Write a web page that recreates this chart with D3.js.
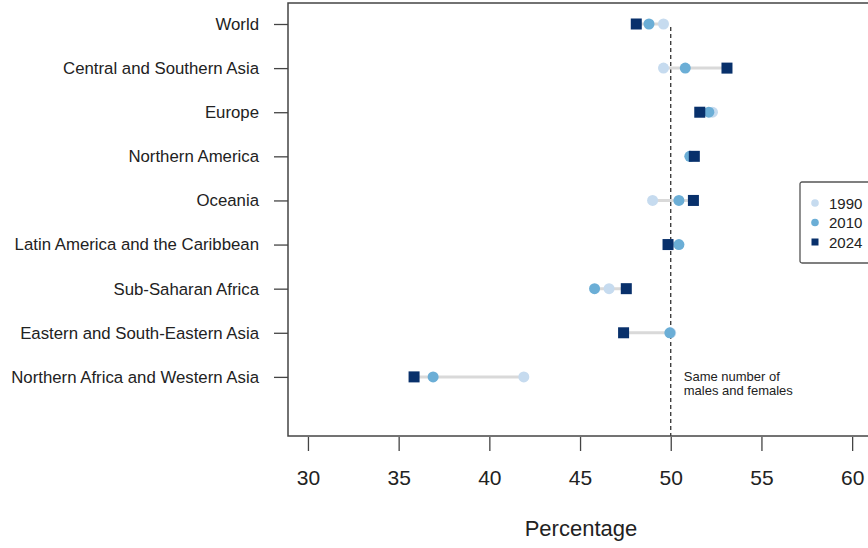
<!DOCTYPE html>
<html>
<head>
<meta charset="utf-8">
<script src="https://cdn.jsdelivr.net/npm/d3@7"></script>
<style>
  body { margin: 0; background: #fff; }
  text { font-family: "Liberation Sans", Arial, sans-serif; fill: #222; }
</style>
</head>
<body>
<div id="wrapper"></div>
<script>
// regions, top to bottom
const regions = [
  "World",
  "Central and Southern Asia",
  "Europe",
  "Northern America",
  "Oceania",
  "Latin America and the Caribbean",
  "Sub-Saharan Africa",
  "Eastern and South-Eastern Asia",
  "Northern Africa and Western Asia"
]
const years = ["1990", "2010", "2024"]
const values1990 = [49.6, 49.6, 52.3, 51.1, 49.0, 49.9, 46.6, 50.0, 41.9]
const values2010 = [48.8, 50.8, 52.1, 51.05, 50.45, 50.45, 45.8, 49.95, 36.9]
const values2024 = [48.1, 53.1, 51.6, 51.3, 51.25, 49.85, 47.55, 47.4, 35.85]
const xTicks = [30, 35, 40, 45, 50, 55, 60]
const colors = ["#c6dbef", "#6baed6", "#08306b"]

async function drawDotChart() {
    const dimensions = {
        width: 868,
        height: 548,
        margin: { top: 3, right: -5, bottom: 112, left: 288 }
    }
    dimensions.boundedWidth = dimensions.width - dimensions.margin.left - dimensions.margin.right
    dimensions.boundedHeight = dimensions.height - dimensions.margin.top - dimensions.margin.bottom

    const svg = d3.select("#wrapper")
        .append("svg")
            .attr("width", dimensions.width)
            .attr("height", dimensions.height)

    const bounds = svg.append("g")
        .attr("transform", `translate(${dimensions.margin.left},${dimensions.margin.top})`)

    const xScale = d3.scaleLinear()
        .domain([28.9, 61.15])
        .range([0, dimensions.boundedWidth])

    // index scale: row 0 at top, an empty slot left at the bottom
    const yScale = d3.scaleLinear()
        .domain([-0.476, regions.length - 1 + 1.34])
        .range([0, dimensions.boundedHeight])

    const rows = regions.map((r, i) => ({
        region: r, i,
        vals: [values1990[i], values2010[i], values2024[i]]
    }))

    // dashed reference line
    bounds.append("line")
        .attr("x1", xScale(50)).attr("x2", xScale(50))
        .attr("y1", yScale(0) + 3).attr("y2", dimensions.boundedHeight)
        .attr("stroke", "#222")
        .attr("stroke-width", 1.2)
        .attr("stroke-dasharray", "4,3")

    const note = ["Same number of", "males and females"]
    note.forEach((t, k) => {
        bounds.append("text")
            .attr("x", xScale(50) + 13)
            .attr("y", yScale(8) + 4.5 + k * 14)
            .style("font-size", "13px")
            .attr("fill", "#333")
            .text(t)
    })

    // grey connecting segments
    bounds.selectAll(".seg")
        .data(rows)
        .join("line")
            .attr("x1", d => xScale(d3.min(d.vals)))
            .attr("x2", d => xScale(d3.max(d.vals)))
            .attr("y1", d => yScale(d.i))
            .attr("y2", d => yScale(d.i))
            .attr("stroke", "#d9d9d9")
            .attr("stroke-width", 3)

    // points: 1990 and 2010 circles, 2024 squares
    years.forEach((yr, k) => {
        const g = bounds.append("g")
        if (k < 2) {
            g.selectAll("circle")
                .data(rows)
                .join("circle")
                    .attr("cx", d => xScale(d.vals[k]))
                    .attr("cy", d => yScale(d.i))
                    .attr("r", 5.5)
                    .attr("fill", colors[k])
        } else {
            g.selectAll("rect")
                .data(rows)
                .join("rect")
                    .attr("x", d => xScale(d.vals[k]) - 5.5)
                    .attr("y", d => yScale(d.i) - 5.5)
                    .attr("width", 11)
                    .attr("height", 11)
                    .attr("fill", colors[k])
        }
    })

    // box
    bounds.append("rect")
        .attr("x", 0).attr("y", 0)
        .attr("width", dimensions.boundedWidth)
        .attr("height", dimensions.boundedHeight)
        .attr("fill", "none")
        .attr("stroke", "#444")
        .attr("stroke-width", 1.5)

    // y axis (category labels)
    const yAxis = bounds.append("g")
        .call(d3.axisLeft(yScale)
            .tickValues(d3.range(regions.length))
            .tickFormat(i => regions[i])
            .tickSize(14)
            .tickPadding(15))
    yAxis.select(".domain").remove()
    yAxis.selectAll("line").attr("stroke", "#444").attr("stroke-width", 1.3)
    yAxis.selectAll("text")
        .style("font-size", "16.8px")
        .style("font-family", "Liberation Sans, Arial, sans-serif")
        .attr("fill", "#333")

    // x axis
    const xAxis = bounds.append("g")
        .attr("transform", `translate(0,${dimensions.boundedHeight + 1})`)
        .call(d3.axisBottom(xScale)
            .tickValues(xTicks)
            .tickSize(14)
            .tickPadding(19))
    xAxis.select(".domain").remove()
    xAxis.selectAll("line").attr("stroke", "#444").attr("stroke-width", 1.3)
    xAxis.selectAll("text")
        .style("font-size", "21px")
        .style("font-family", "Liberation Sans, Arial, sans-serif")
        .attr("fill", "#333")

    svg.append("text")
        .attr("x", dimensions.margin.left + xScale(45.05))
        .attr("y", 536)
        .attr("text-anchor", "middle")
        .style("font-size", "22px")
        .attr("fill", "#333")
        .text("Percentage")

    // legend
    const legend = svg.append("g").attr("transform", "translate(800,182)")
    legend.append("rect")
        .attr("x", 0).attr("y", 0)
        .attr("width", 100).attr("height", 81)
        .attr("rx", 2)
        .attr("fill", "#fff")
        .attr("stroke", "#555")
        .attr("stroke-width", 1.3)
    years.forEach((yr, k) => {
        const cy = 21 + k * 19.5
        if (k < 2) {
            legend.append("circle").attr("cx", 15).attr("cy", cy).attr("r", 3.8).attr("fill", colors[k])
        } else {
            legend.append("rect").attr("x", 11.5).attr("y", cy - 3.5).attr("width", 7).attr("height", 7).attr("fill", colors[k])
        }
        legend.append("text")
            .attr("x", 29).attr("y", cy + 5.5)
            .style("font-size", "15px")
            .attr("fill", "#333")
            .text(yr)
    })
}

drawDotChart()
</script>
</body>
</html>
